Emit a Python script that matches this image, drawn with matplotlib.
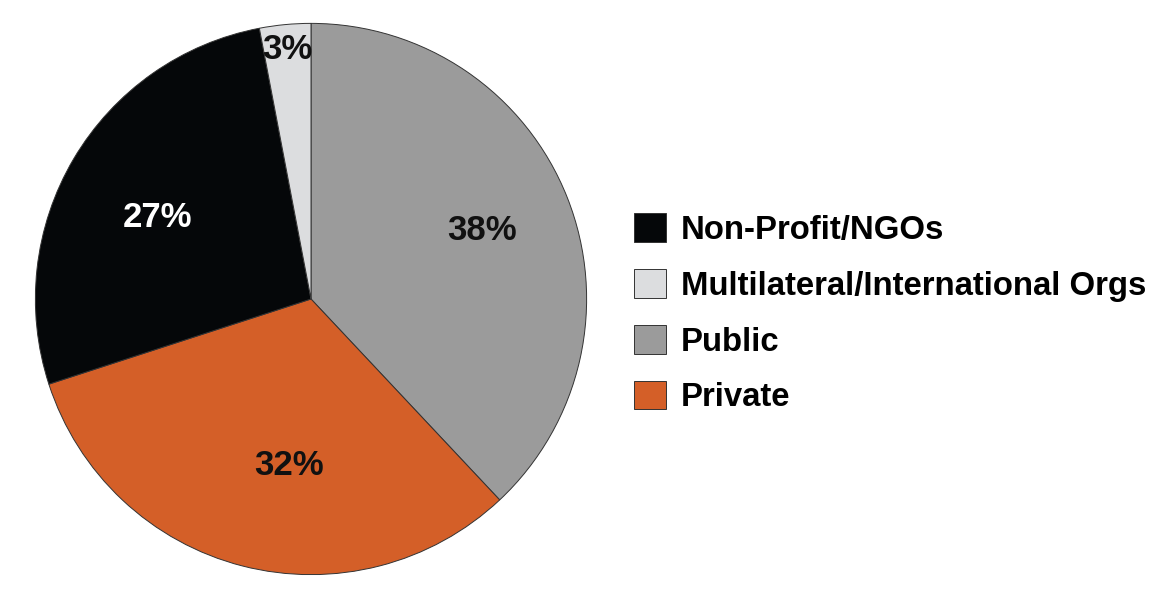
import numpy as np
import matplotlib
matplotlib.use("Agg")
import matplotlib.pyplot as plt

plt.rcParams["font.family"] = ["Liberation Sans", "DejaVu Sans"]
plt.rcParams["font.weight"] = "bold"

# ---- data (pie order: clockwise from 12 o'clock) ----
sectors = ["Public", "Private", "Non-Profit/NGOs", "Multilateral/International Orgs"]
shares = [38, 32, 27, 3]
colors = ["#9b9b9b", "#d45f28", "#050709", "#dcdddf"]
label_colors = ["#111111", "#111111", "white", "#111111"]
# label placement: radius (fraction of R) and angular nudge (deg) from wedge middle
label_radius = [0.67, 0.61, 0.63, 0.91]
label_shift = [0.3, 7.0, 2.6, 0.0]
legend_order = ["Non-Profit/NGOs", "Multilateral/International Orgs", "Public", "Private"]

fig = plt.figure(figsize=(11.6, 5.99), dpi=100)
ax = fig.add_axes([(311 - 277) / 1160, (300 - 277) / 599, 554 / 1160, 554 / 599])

wedges, _ = ax.pie(shares, colors=colors, startangle=90, counterclock=False,
                   wedgeprops=dict(edgecolor="#333333", linewidth=0.7))
ax.set_xlim(-1.005, 1.005); ax.set_ylim(-1.005, 1.005)
ax.set_aspect("equal")

for w, v, c, r, d in zip(wedges, shares, label_colors, label_radius, label_shift):
    ang = np.deg2rad((w.theta1 + w.theta2) / 2 + d)
    ax.text(r * np.cos(ang), r * np.sin(ang), f"{v}%", ha="center", va="center",
            fontsize=25, fontweight="bold", color=c)

handles = [wedges[sectors.index(s)] for s in legend_order]
fig.legend(handles, legend_order, loc="center left", bbox_to_anchor=(634 / 1160, 0.477),
           frameon=False, fontsize=23.7, handlelength=0.97, handleheight=0.97,
           handletextpad=0.45, labelspacing=0.70, borderpad=0, borderaxespad=0)

fig.savefig("out.png", dpi=100)
